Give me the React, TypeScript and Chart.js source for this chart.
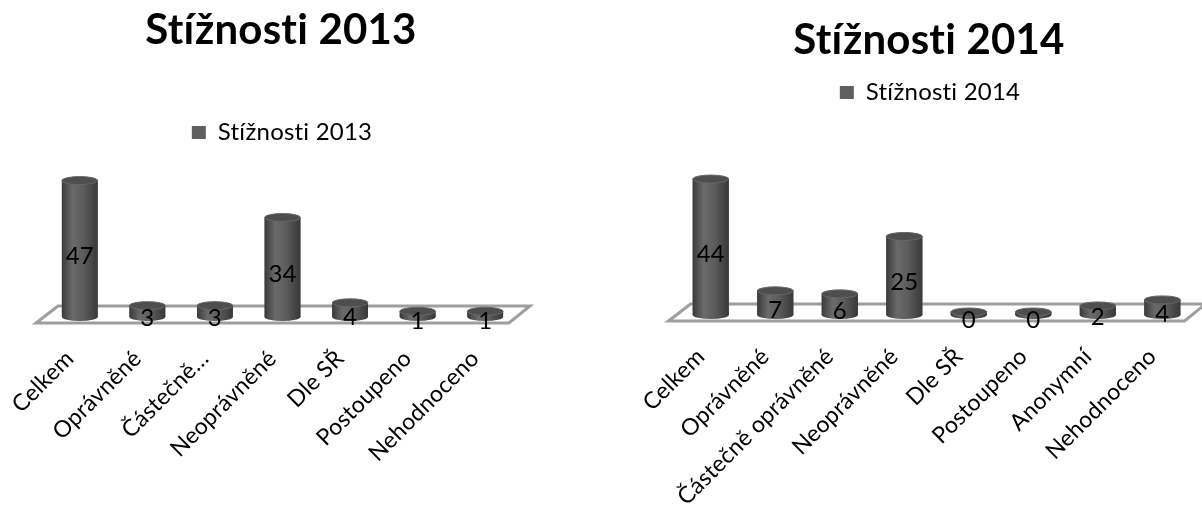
import React, { useEffect, useRef } from "react";
import { Chart, registerables } from "chart.js";
Chart.register(...registerables);

const categories2013 = ["Celkem", "Oprávněné", "Částečně…", "Neoprávněné", "Dle SŘ", "Postoupeno", "Nehodnoceno"];
const values2013 = [47, 3, 3, 34, 4, 1, 1];
const categories2014 = ["Celkem", "Oprávněné", "Částečně oprávněné", "Neoprávněné", "Dle SŘ", "Postoupeno", "Anonymní", "Nehodnoceno"];
const values2014 = [44, 7, 6, 25, 0, 0, 2, 4];
const seriesName2013 = "Stížnosti 2013";
const seriesName2014 = "Stížnosti 2014";

const FONT = "Lato, 'Open Sans', sans-serif";

const noLigaturePlugin = {
  id: "noLigatures",
  beforeDraw(chart: any) {
    try {
      (chart.ctx as any).letterSpacing = "0.2px";
    } catch (e) {}
  },
};

const floorPlugin = {
  id: "floor3d",
  beforeDatasetsDraw(chart: any) {
    const { ctx, chartArea } = chart;
    const b = chartArea.bottom;
    const l = chartArea.left;
    const r = chartArea.right;
    ctx.save();
    ctx.beginPath();
    ctx.moveTo(l + 12, b - 11);
    ctx.lineTo(r + 11, b - 11);
    ctx.lineTo(r - 10, b + 6);
    ctx.lineTo(l - 10, b + 6);
    ctx.closePath();
    ctx.fillStyle = "#ffffff";
    ctx.fill();
    ctx.lineWidth = 3;
    ctx.strokeStyle = "#9e9e9e";
    ctx.stroke();
    ctx.restore();
  },
};

const cylinderPlugin = {
  id: "cylinder3d",
  afterDatasetsDraw(chart: any) {
    const { ctx } = chart;
    const meta = chart.getDatasetMeta(0);
    const data = chart.data.datasets[0].data as number[];
    ctx.save();
    meta.data.forEach((el: any, i: number) => {
      const { x, y, width, base } = el.getProps(["x", "y", "width", "base"], true);
      const l = x - width / 2;
      const r = x + width / 2;
      const g = ctx.createLinearGradient(l, 0, r, 0);
      g.addColorStop(0, "#3a3a3a");
      g.addColorStop(0.3, "#6a6a6a");
      g.addColorStop(0.6, "#5c5c5c");
      g.addColorStop(1, "#383838");
      ctx.fillStyle = g;
      ctx.beginPath();
      ctx.ellipse(x, base, width / 2, 4, 0, 0, Math.PI * 2);
      ctx.fill();
      ctx.fillRect(l, y, width, base - y);
      ctx.beginPath();
      ctx.ellipse(x, y, width / 2, 4, 0, 0, Math.PI * 2);
      ctx.fillStyle = "#4e4e4e";
      ctx.fill();
      ctx.lineWidth = 1;
      ctx.strokeStyle = "#666666";
      ctx.stroke();
      ctx.fillStyle = "#000000";
      ctx.font = `24px ${FONT}`;
      ctx.textAlign = "center";
      ctx.textBaseline = "middle";
      ctx.fillText(String(data[i]), x, (y + base) / 2 + 7);
    });
    ctx.restore();
  },
};

type Cfg = {
  labels: string[];
  values: number[];
  name: string;
  padLeft: number;
  yAxisW: number;
  padRight: number;
  xAxisH: number;
  yMax: number;
  barPct: number;
  titleTop: number;
  titleBottom: number;
  tickPad: number;
};

function BarChart({ cfg, width, height }: { cfg: Cfg; width: number; height: number }) {
  const ref = useRef<HTMLCanvasElement | null>(null);
  useEffect(() => {
    if (!ref.current) return;
    const chart = new Chart(ref.current, {
      type: "bar",
      data: {
        labels: cfg.labels,
        datasets: [
          {
            label: cfg.name,
            data: cfg.values,
            backgroundColor: "#5f5f5f",
            borderWidth: 0,
            base: -1,
            categoryPercentage: 1,
            barPercentage: cfg.barPct,
          } as any,
        ],
      },
      options: {
        responsive: false,
        animation: false,
        devicePixelRatio: 1,
        layout: { padding: { left: cfg.padLeft, right: cfg.padRight, top: 0, bottom: 0 } },
        plugins: {
          title: {
            display: true,
            text: cfg.name,
            color: "#000000",
            font: { family: FONT, size: 42, weight: "bold" },
            padding: { top: cfg.titleTop, bottom: cfg.titleBottom },
          },
          legend: {
            display: true,
            labels: {
              color: "#000000",
              boxWidth: 14,
              boxHeight: 13,
              font: { family: FONT, size: 24 },
            },
          },
          tooltip: { enabled: false },
        },
        scales: {
          x: {
            grid: { display: false },
            border: { display: false },
            offset: true,
            ticks: {
              color: "#000000",
              font: { family: FONT, size: 23 },
              minRotation: 45,
              maxRotation: 45,
              autoSkip: false,
              padding: cfg.tickPad,
              labelOffset: -10,
            },
            afterFit: (s: any) => {
              s.height = cfg.xAxisH;
            },
          },
          y: {
            display: true,
            min: -1,
            max: cfg.yMax,
            grid: { display: false },
            border: { display: false },
            ticks: { display: false },
            afterFit: (s: any) => {
              s.width = cfg.yAxisW;
            },
          },
        },
      },
      plugins: [noLigaturePlugin, floorPlugin, cylinderPlugin],
    });
    return () => chart.destroy();
  }, [cfg]);
  return <canvas ref={ref} width={width} height={height} style={{ display: "block" }} />;
}

const cfg2013: Cfg = {
  labels: categories2013,
  values: values2013,
  name: seriesName2013,
  padLeft: 43,
  yAxisW: 3,
  padRight: 61,
  xAxisH: 191,
  yMax: 56.2,
  barPct: 0.53,
  titleTop: 5,
  titleBottom: 55,
  tickPad: 20,
};

const cfg2014: Cfg = {
  labels: categories2014,
  values: values2014,
  name: seriesName2014,
  padLeft: 78.5,
  yAxisW: 20,
  padRight: 2.5,
  xAxisH: 193,
  yMax: 65.4,
  barPct: 0.56,
  titleTop: 15,
  titleBottom: 5,
  tickPad: 20,
};

export default function App() {
  return (
    <div style={{ position: "fixed", left: 0, top: 0, width: 1202, height: 508, background: "#ffffff", overflow: "hidden" }}>
      <div style={{ position: "absolute", left: 0, top: 0 }}>
        <BarChart cfg={cfg2013} width={580} height={508} />
      </div>
      <div style={{ position: "absolute", left: 580, top: 0 }}>
        <BarChart cfg={cfg2014} width={622} height={508} />
      </div>
    </div>
  );
}
